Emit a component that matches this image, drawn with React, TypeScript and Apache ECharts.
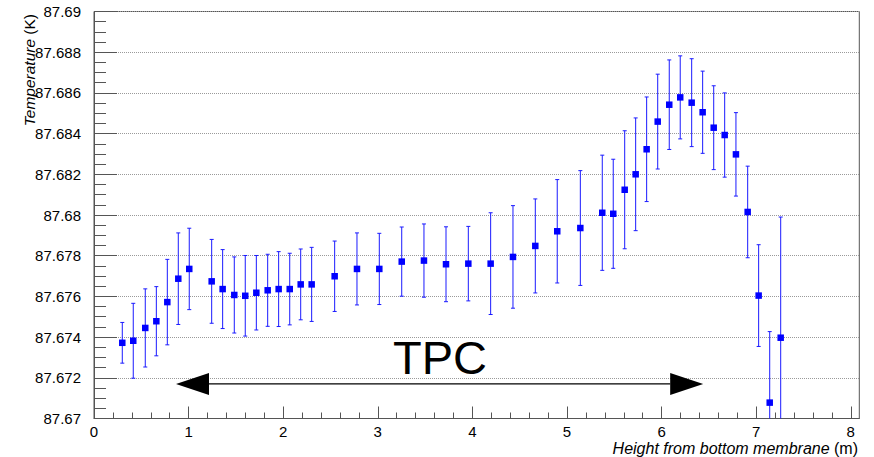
import React, { useEffect, useRef } from "react";
import * as echarts from "echarts";

const heights = [
  0.299, 0.415, 0.542, 0.659, 0.775, 0.891, 1.007, 1.244, 1.36, 1.483, 1.599, 1.716,
  1.836, 1.952, 2.069, 2.185, 2.301, 2.544, 2.78, 3.016, 3.253, 3.488, 3.721, 3.957,
  4.193, 4.429, 4.665, 4.897, 5.141, 5.373, 5.489, 5.61, 5.726, 5.842, 5.959, 6.081,
  6.197, 6.318, 6.434, 6.551, 6.667, 6.786, 6.91, 7.026, 7.143, 7.259,
];
const temperatures = [
  87.67372, 87.67382, 87.67445, 87.67478, 87.67572, 87.67687, 87.67735, 87.67674,
  87.67636, 87.67607, 87.67603, 87.67618, 87.6763, 87.67636, 87.67636, 87.67659,
  87.67659, 87.67699, 87.67735, 87.67735, 87.67771, 87.67776, 87.67758, 87.67761,
  87.67761, 87.67794, 87.67848, 87.6792, 87.67936, 87.68011, 87.68006, 87.68124,
  87.682, 87.68323, 87.68459, 87.68542, 87.68578, 87.68552, 87.68505, 87.68429,
  87.68393, 87.68298, 87.68015, 87.67604, 87.67078, 87.67397,
];
const errors = [
  0.001, 0.00184, 0.00192, 0.0017, 0.0021, 0.00225, 0.002, 0.00206, 0.00194, 0.00187,
  0.00198, 0.00183, 0.00177, 0.00184, 0.00176, 0.00174, 0.00182, 0.00173, 0.00177,
  0.00175, 0.0017, 0.0018, 0.00184, 0.00183, 0.0025, 0.00252, 0.00231, 0.00254,
  0.00282, 0.00283, 0.00268, 0.0029, 0.00277, 0.00257, 0.00233, 0.0022, 0.00204,
  0.00216, 0.00202, 0.00206, 0.00207, 0.00205, 0.00225, 0.0025, 0.00349, 0.00593,
];
// TPC arrow: [x start, x end, y]
const tpcArrow = [0.867, 6.44, 87.6717];
const xMajorTicks = [0, 1, 2, 3, 4, 5, 6, 7, 8];
const xMinorTicks: number[] = [];
for (let i = 1; i < 41; i++) if (i % 5 !== 0) xMinorTicks.push(Number((i * 0.2).toFixed(1)));

const FONT = "'Liberation Sans', Arial, Helvetica, sans-serif";
const AXIS_COLOR = "#555";

export default function App() {
  const ref = useRef<HTMLDivElement>(null);
  useEffect(() => {
    if (!ref.current) return;
    const chart = echarts.init(ref.current, undefined, { renderer: "svg" });
    const pointData = heights.map((h, i) => [h, temperatures[i]]);
    const errData = heights.map((h, i) => [h, temperatures[i], errors[i]]);
    chart.setOption({
      animation: false,
      grid: {
        left: 94,
        right: 14.7,
        top: 11.5,
        bottom: 38.5,
        show: true,
        borderColor: AXIS_COLOR,
        borderWidth: 1,
        backgroundColor: "transparent",
      },
      xAxis: [
        {
          type: "value",
          min: 0,
          max: 8.09,
          axisLine: { show: true, lineStyle: { color: AXIS_COLOR } },
          axisTick: {
            show: true,
            inside: true,
            length: 12,
            customValues: xMajorTicks,
            lineStyle: { color: AXIS_COLOR },
          },
          axisLabel: {
            customValues: xMajorTicks,
            color: "#000",
            fontFamily: FONT,
            fontSize: 15,
            margin: 5,
          },
          splitLine: { show: false },
        },
        {
          type: "value",
          min: 0,
          max: 8.09,
          position: "bottom",
          axisLine: { show: false },
          axisTick: {
            show: true,
            inside: true,
            length: 6,
            customValues: xMinorTicks,
            lineStyle: { color: AXIS_COLOR },
          },
          axisLabel: { show: false },
          splitLine: { show: false },
        },
      ],
      yAxis: {
        type: "value",
        min: 87.67,
        max: 87.69,
        interval: 0.002,
        axisLine: { show: true, lineStyle: { color: AXIS_COLOR } },
        axisTick: { show: true, inside: true, length: 23, lineStyle: { color: AXIS_COLOR } },
        minorTick: { show: true, splitNumber: 4, length: 12, lineStyle: { color: AXIS_COLOR } },
        axisLabel: { color: "#000", fontFamily: FONT, fontSize: 15, margin: 13 },
        splitLine: {
          show: true,
          lineStyle: { color: "#9a9a9a", type: [1, 1], width: 1 },
        },
      },
      graphic: [
        {
          type: "text",
          x: 29,
          y: 14,
          rotation: Math.PI / 2,
          style: {
            text: "{i|Temperature} {n|(K)}",
            textAlign: "right",
            textVerticalAlign: "middle",
            fill: "#000",
            fontFamily: FONT,
            fontSize: 15.5,
            rich: {
              i: { fontStyle: "italic", fontFamily: FONT, fontSize: 15.5, fill: "#000" },
              n: { fontFamily: FONT, fontSize: 15.5, fill: "#000" },
            },
          },
        },
        {
          type: "text",
          x: 858,
          y: 448,
          style: {
            text: "{i|Height from bottom membrane} {n|(m)}",
            textAlign: "right",
            textVerticalAlign: "middle",
            fill: "#000",
            fontFamily: FONT,
            fontSize: 16,
            rich: {
              i: { fontStyle: "italic", fontFamily: FONT, fontSize: 16, fill: "#000" },
              n: { fontFamily: FONT, fontSize: 16, fill: "#000" },
            },
          },
        },
        {
          type: "text",
          x: 440,
          y: 357,
          style: {
            text: "TPC",
            textAlign: "center",
            textVerticalAlign: "middle",
            fill: "#000",
            fontFamily: FONT,
            fontSize: 47,
          },
        },
      ],
      series: [
        {
          type: "custom",
          name: "arrow",
          xAxisIndex: 0,
          silent: true,
          data: [tpcArrow],
          renderItem: (params: any, api: any) => {
            const p1 = api.coord([api.value(0), api.value(2)]);
            const p2 = api.coord([api.value(1), api.value(2)]);
            const hl = 33;
            const hw = 11;
            return {
              type: "group",
              children: [
                {
                  type: "line",
                  shape: { x1: p1[0] + hl, y1: p1[1], x2: p2[0] - hl, y2: p2[1] },
                  style: { stroke: "#000", lineWidth: 1.3 },
                },
                {
                  type: "polygon",
                  shape: {
                    points: [
                      [p1[0], p1[1]],
                      [p1[0] + hl, p1[1] - hw],
                      [p1[0] + hl, p1[1] + hw],
                    ],
                  },
                  style: { fill: "#000" },
                },
                {
                  type: "polygon",
                  shape: {
                    points: [
                      [p2[0], p2[1]],
                      [p2[0] - hl, p2[1] - hw],
                      [p2[0] - hl, p2[1] + hw],
                    ],
                  },
                  style: { fill: "#000" },
                },
              ],
            };
          },
        },
        {
          type: "custom",
          name: "errors",
          xAxisIndex: 0,
          clip: true,
          silent: true,
          data: errData,
          renderItem: (params: any, api: any) => {
            const x = api.value(0);
            const y = api.value(1);
            const e = api.value(2);
            const top = api.coord([x, y + e]);
            const bot = api.coord([x, y - e]);
            const cw = 2;
            const style = { stroke: "#1a1aff", lineWidth: 1 };
            return {
              type: "group",
              children: [
                { type: "line", shape: { x1: top[0], y1: top[1], x2: bot[0], y2: bot[1] }, style },
                { type: "line", shape: { x1: top[0] - cw, y1: top[1], x2: top[0] + cw, y2: top[1] }, style },
                { type: "line", shape: { x1: bot[0] - cw, y1: bot[1], x2: bot[0] + cw, y2: bot[1] }, style },
              ],
            };
          },
        },
        {
          type: "scatter",
          name: "temperature",
          xAxisIndex: 0,
          symbol: "rect",
          symbolSize: 6.5,
          itemStyle: { color: "#0000ff", opacity: 1 },
          data: pointData,
          silent: true,
        },
      ],
    });
    return () => chart.dispose();
  }, []);
  return <div ref={ref} style={{ width: 874, height: 457, position: "absolute", left: 0, top: 0 }} />;
}
